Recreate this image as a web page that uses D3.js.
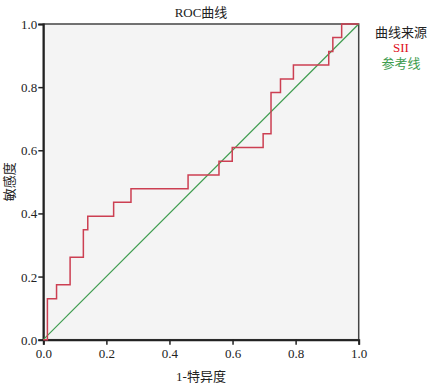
<!DOCTYPE html>
<html><head><meta charset="utf-8">
<script src="https://cdn.jsdelivr.net/npm/d3@7/dist/d3.min.js"></script>
<style>body{margin:0;background:#fff}svg{display:block}</style>
</head><body>
<script>
// 1-specificity and sensitivity of the SII ROC step curve
const fpr = [0, 0.013, 0.013, 0.042, 0.042, 0.085, 0.085, 0.127, 0.127, 0.141, 0.141, 0.223, 0.223, 0.278, 0.278, 0.459, 0.459, 0.557, 0.557, 0.599, 0.599, 0.697, 0.697, 0.722, 0.722, 0.752, 0.752, 0.793, 0.793, 0.905, 0.905, 0.918, 0.918, 0.946, 0.946, 1.0];
const tpr = [0, 0, 0.130, 0.130, 0.174, 0.174, 0.261, 0.261, 0.348, 0.348, 0.391, 0.391, 0.435, 0.435, 0.478, 0.478, 0.522, 0.522, 0.565, 0.565, 0.609, 0.609, 0.652, 0.652, 0.783, 0.783, 0.826, 0.826, 0.870, 0.870, 0.913, 0.913, 0.957, 0.957, 1.0, 1.0];
const refX = [0, 1];
const refY = [0, 1];
const ticks = [0, 0.2, 0.4, 0.6, 0.8, 1.0];
const title = "ROC曲线";
const xLabel = "1-特异度";
const yLabel = "敏感度";
const legendTitle = "曲线来源";
const legendItems = ["SII", "参考线"];
const colors = ["#cc3f52", "#3d9c4e"];

const W = 433, H = 385;
const m = {l: 43.3, r: 433 - 358.7, t: 24, b: 385 - 339.7};
const svg = d3.select("body").append("svg").attr("width", W).attr("height", H);
const x = d3.scaleLinear().domain([0, 1]).range([m.l, W - m.r]);
const y = d3.scaleLinear().domain([0, 1]).range([H - m.b, m.t]);
const serif = "'Liberation Serif','Times New Roman',serif";
const cjk = "'Liberation Serif','Noto Sans CJK SC',serif";

svg.append("rect").attr("x", x(0)).attr("y", y(1)).attr("width", x(1) - x(0)).attr("height", y(0) - y(1))
  .attr("fill", "#f4f4f4").attr("stroke", "#444").attr("stroke-width", 1.5);

const ax = svg.append("g").attr("transform", `translate(0,${y(0)})`)
  .call(d3.axisBottom(x).tickValues(ticks).tickFormat(d3.format(".1f")).tickSize(5).tickPadding(4));
const ay = svg.append("g").attr("transform", `translate(${x(0)},0)`)
  .call(d3.axisLeft(y).tickValues(ticks).tickFormat(d3.format(".1f")).tickSize(5).tickPadding(1));
[ax, ay].forEach(g => {
  g.selectAll("path").attr("stroke", "#222").attr("stroke-width", 2);
  g.selectAll("line").attr("stroke", "#222").attr("stroke-width", 1.5);
  g.selectAll("text").attr("font-family", serif).attr("font-size", 13).attr("fill", "#222");
});
ay.selectAll("text").attr("dy", "0.35em");

const line = d3.line().x(d => x(d[0])).y(d => y(d[1]));
svg.append("path").datum(refX.map((v, i) => [v, refY[i]])).attr("d", line)
  .attr("fill", "none").attr("stroke", colors[1]).attr("stroke-width", 1.2);
svg.append("path").datum(fpr.map((v, i) => [v, tpr[i]])).attr("d", line)
  .attr("fill", "none").attr("stroke", colors[0]).attr("stroke-width", 1.5);

svg.append("text").attr("x", 201).attr("y", 17).attr("text-anchor", "middle")
  .attr("font-family", cjk).attr("font-size", 13).attr("fill", "#222").text(title);
svg.append("text").attr("x", (x(0) + x(1)) / 2).attr("y", 381).attr("text-anchor", "middle")
  .attr("font-family", cjk).attr("font-size", 13).attr("fill", "#222").text(xLabel);
svg.append("text").attr("transform", `translate(14,${(y(0) + y(1)) / 2}) rotate(-90)`).attr("text-anchor", "middle")
  .attr("font-family", cjk).attr("font-size", 13).attr("fill", "#222").text(yLabel);

const lx = 401;
svg.append("text").attr("x", lx).attr("y", 37).attr("text-anchor", "middle")
  .attr("font-family", cjk).attr("font-size", 13).attr("fill", "#222").text(legendTitle);
legendItems.forEach((t, i) => {
  svg.append("text").attr("x", lx).attr("y", 52 + i * 16).attr("text-anchor", "middle")
    .attr("font-family", cjk).attr("font-size", 13).attr("fill", colors[i] === "#cc3f52" ? "#e0101c" : colors[i]).text(t);
});
</script>
</body></html>
